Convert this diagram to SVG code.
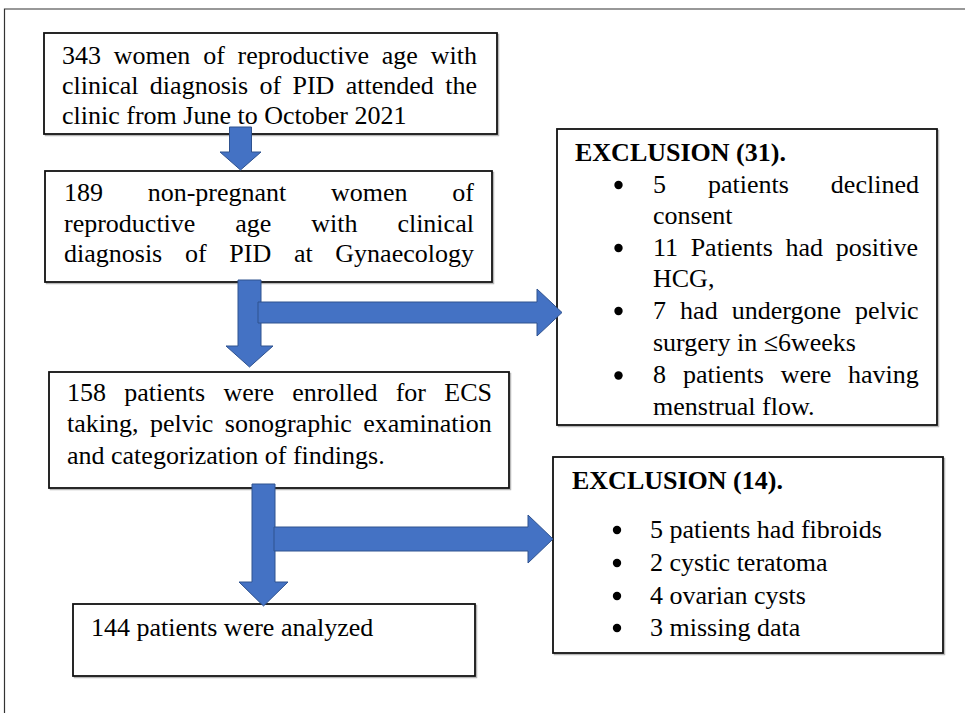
<svg xmlns="http://www.w3.org/2000/svg" width="965" height="713" viewBox="0 0 965 713">
<defs>
<style>
.box{fill:#fff;stroke:#111;stroke-width:1.8}
.sh{fill:none;stroke:#b8b8b8;stroke-width:1.5}
.t{font-family:"Liberation Serif","Times New Roman",Tinos,serif;font-size:26px;fill:#000}
.b{font-weight:bold}
.arr{fill:#4472C4;stroke:#2F528F;stroke-width:1}
.bul{fill:#000}
</style>
</defs>
<rect width="965" height="713" fill="#fff"/>
<path d="M4.5,713 V9 H965" fill="none" stroke="#333" stroke-width="1.2"/>

<g id="box1">
<rect class="sh" x="45.5" y="34.5" width="453" height="101"/>
<rect class="box" x="44" y="33" width="453" height="101"/>
<text class="t"><tspan x="62" y="63.5" word-spacing="6.3">343 women of reproductive age with</tspan><tspan x="62" y="93.5" word-spacing="4.86">clinical diagnosis of PID attended the</tspan><tspan x="62" y="123.5">clinic from June to October 2021</tspan></text>
</g>

<g id="box2">
<rect class="sh" x="46.5" y="172.5" width="447" height="111"/>
<rect class="box" x="45" y="171" width="447" height="111"/>
<text class="t"><tspan x="64" y="201" word-spacing="38.2">189 non-pregnant women of</tspan><tspan x="64" y="231.5" word-spacing="33.4">reproductive age with clinical</tspan><tspan x="64" y="262" word-spacing="16.2">diagnosis of PID at Gynaecology</tspan></text>
</g>

<g id="box3">
<rect class="sh" x="50.5" y="373.5" width="460" height="116"/>
<rect class="box" x="49" y="372" width="460" height="116"/>
<text class="t"><tspan x="67" y="401" word-spacing="11.78">158 patients were enrolled for ECS</tspan><tspan x="67" y="432" word-spacing="4.9">taking, pelvic sonographic examination</tspan><tspan x="67" y="464">and categorization of findings.</tspan></text>
</g>

<g id="box4">
<rect class="sh" x="74.5" y="605.5" width="402" height="72"/>
<rect class="box" x="73" y="604" width="402" height="72"/>
<text class="t" x="91" y="636">144 patients were analyzed</text>
</g>

<g id="exclusion1">
<rect class="sh" x="558.5" y="130.5" width="380" height="296"/>
<rect class="box" x="557" y="129" width="380" height="296"/>
<text class="t b" x="575" y="161">EXCLUSION (31).</text>
<circle class="bul" cx="618.5" cy="185" r="4.2"/>
<circle class="bul" cx="618.5" cy="248" r="4.2"/>
<circle class="bul" cx="618.5" cy="311" r="4.2"/>
<circle class="bul" cx="618.5" cy="375.5" r="4.2"/>
<text class="t"><tspan x="653" y="192.5" word-spacing="35.5">5 patients declined</tspan><tspan x="653" y="223.5">consent</tspan><tspan x="653" y="256" word-spacing="6.1">11 Patients had positive</tspan><tspan x="653" y="286.5">HCG,</tspan><tspan x="653" y="319" word-spacing="7.6">7 had undergone pelvic</tspan><tspan x="653" y="351">surgery in ≤6weeks</tspan><tspan x="653" y="383" word-spacing="10.4">8 patients were having</tspan><tspan x="653" y="414.5">menstrual flow.</tspan></text>
</g>

<g id="exclusion2">
<rect class="sh" x="554.5" y="458.5" width="390" height="196"/>
<rect class="box" x="553" y="457" width="390" height="196"/>
<text class="t b" x="572" y="489">EXCLUSION (14).</text>
<circle class="bul" cx="617" cy="530" r="4.2"/>
<circle class="bul" cx="617" cy="563" r="4.2"/>
<circle class="bul" cx="617" cy="596" r="4.2"/>
<circle class="bul" cx="617" cy="628" r="4.2"/>
<text class="t"><tspan x="650" y="537.5">5 patients had fibroids</tspan><tspan x="650" y="570.5">2 cystic teratoma</tspan><tspan x="650" y="603.5">4 ovarian cysts</tspan><tspan x="650" y="635.5">3 missing data</tspan></text>
</g>

<g id="connectors">
<path class="arr" d="M229.5,127 H251.5 V152 H261 L240.5,170 L220,152 H229.5 Z"/>
<path class="arr" d="M238,280 H261 V346 H273 L249.5,367 L226,346 H238 Z"/>
<path class="arr" d="M258,302 H537 V289 L562,312.5 L537,336 V323 H258 Z"/>
<path class="arr" d="M252,484 H275 V582 H288 L263.5,606 L239,582 H252 Z"/>
<path class="arr" d="M274,527 H528 V515 L553,539 L528,563 V551 H274 Z"/>
</g>
</svg>
